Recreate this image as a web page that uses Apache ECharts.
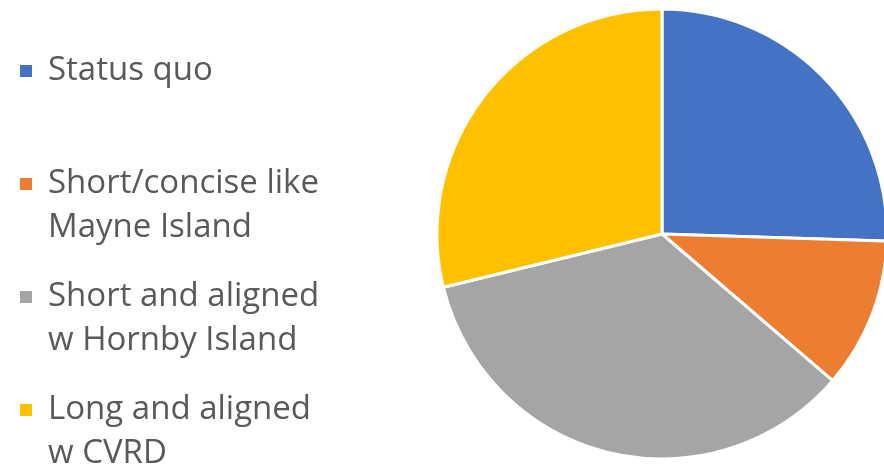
<!DOCTYPE html>
<html>
<head>
<meta charset="utf-8">
<script src="https://cdn.jsdelivr.net/npm/echarts@6/dist/echarts.min.js"></script>
<style>
  html, body { margin: 0; padding: 0; background: #ffffff; }
  #chart { width: 884px; height: 466px; }
</style>
</head>
<body>
<div id="chart"></div>
<script>
// Survey options (legend order) and their shares of responses, in percent
const categories = [
  'Status quo',
  'Short/concise like\nMayne Island',
  'Short and aligned\nw Hornby Island',
  'Long and aligned\nw CVRD'
];
const shares = [25.5, 10.8, 34.9, 28.8];
const colors = ['#4472C4', '#ED7D31', '#A5A5A5', '#FFC000'];

const chart = echarts.init(document.getElementById('chart'), null, { renderer: 'canvas' });

chart.setOption({
  animation: false,
  color: colors,
  legend: {
    orient: 'vertical',
    left: 18,
    top: 5,
    height: 600,
    padding: 0,
    itemGap: -19,
    itemWidth: 14,
    itemHeight: 14,
    icon: 'rect',
    selectedMode: false,
    // Each entry is laid out as three lines with the label's first line in the
    // middle, so the square sits beside the first line of the label.
    formatter: function (name) {
      const lines = name.split('\n');
      while (lines.length < 2) lines.push(' ');
      return '\n' + lines.join('\n');
    },
    textStyle: {
      fontFamily: 'Open Sans',
      fontSize: 33,
      lineHeight: 44,
      color: '#595959',
      padding: [0, 0, 0, 10]
    },
    data: categories
  },
  series: [{
    type: 'pie',
    center: [662, 234],
    radius: 225,
    startAngle: 90,
    clockwise: true,
    label: { show: false },
    labelLine: { show: false },
    itemStyle: { borderColor: '#ffffff', borderWidth: 3 },
    emphasis: { disabled: true },
    data: categories.map((c, i) => ({ name: c, value: shares[i] }))
  }]
});
</script>
</body>
</html>
